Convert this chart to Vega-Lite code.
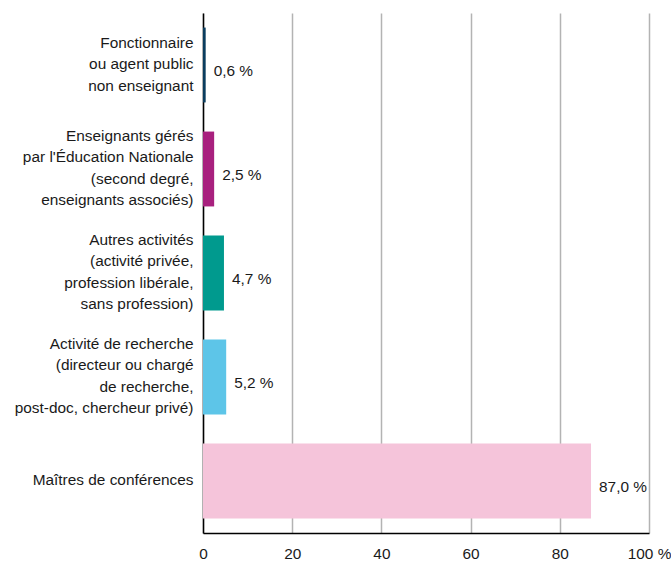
{
  "$schema": "https://vega.github.io/schema/vega-lite/v6.json",
  "width": 446,
  "height": 520,
  "autosize": {"type": "none"},
  "padding": {"left": 203, "top": 13, "right": 22, "bottom": 32},
  "background": "white",
  "data": {
    "values": [
      {"cat": "Fonctionnaire|ou agent public |non enseignant", "pct": 0.6, "label": "0,6 %", "color": "#0b3d5e"},
      {"cat": "Enseignants gérés|par l'Éducation Nationale|(second degré,|enseignants associés)", "pct": 2.5, "label": "2,5 %", "color": "#a8207e"},
      {"cat": "Autres activités |(activité privée,|profession libérale,|sans profession)", "pct": 4.7, "label": "4,7 %", "color": "#009a8e"},
      {"cat": "Activité de recherche|(directeur ou  chargé|de recherche,|post-doc, chercheur privé)", "pct": 5.2, "label": "5,2 %", "color": "#5dc5e8"},
      {"cat": "Maîtres de conférences", "pct": 87.0, "label": "87,0 %", "color": "#f5c4da"}
    ]
  },
  "encoding": {
    "y": {
      "field": "cat", "type": "nominal", "sort": null,
      "scale": {"paddingInner": 0.28, "paddingOuter": 0.14},
      "axis": {
        "title": null, "labelExpr": "split(datum.label, '|')",
        "labelFont": "Liberation Sans", "labelFontSize": 15.4, "labelColor": "#1a1a1a",
        "labelLineHeight": 21.5, "labelPadding": 10, "ticks": false, "domainColor": "#000000",
        "domainWidth": 1.5, "labelLimit": 300,
        "labelOffset": {"expr": "-(length(split(datum.label, '|')) - 1) * 10.75 - 1"}
      }
    },
    "x": {
      "field": "pct", "type": "quantitative",
      "scale": {"domain": [0, 100], "nice": false},
      "axis": {
        "title": null, "values": [0, 20, 40, 60, 80, 100],
        "labelExpr": "datum.value == 100 ? '100 %' : datum.label",
        "labelFlush": false,
        "labelFont": "Liberation Sans", "labelFontSize": 15.4, "labelColor": "#1a1a1a",
        "labelPadding": 13, "ticks": false, "domainColor": "#000000", "domainWidth": 1.5,
        "gridColor": "#b3b3b3", "gridWidth": 1.5
      }
    }
  },
  "layer": [
    {
      "mark": {"type": "bar"},
      "encoding": {"color": {"field": "color", "type": "nominal", "scale": null}}
    },
    {
      "mark": {"type": "text", "align": "left", "baseline": "middle", "dx": 8, "dy": 6, "font": "Liberation Sans", "fontSize": 15.4, "color": "#1a1a1a"},
      "encoding": {"text": {"field": "label"}}
    }
  ],
  "config": {"view": {"stroke": null}}
}
